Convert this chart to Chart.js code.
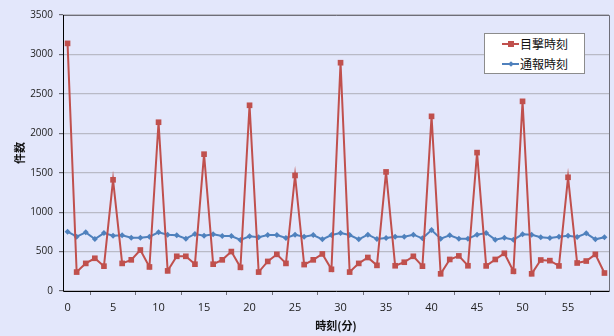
<!DOCTYPE html>
<html>
<head>
<meta charset="utf-8">
<script src="https://cdn.jsdelivr.net/npm/chart.js@4.4.1/dist/chart.umd.min.js"></script>
<style>
    html, body { margin: 0; padding: 0; background: #e3e7fb; }
    #wrap { position: relative; width: 614px; height: 336px; }
    #legend {
        position: absolute; left: 484px; top: 33px; width: 99px; height: 39px;
        background: #ffffff; border: 1px solid #8c8c8c;
        font-family: "Noto Sans CJK JP", sans-serif; font-size: 12px; color: #111;
    }
    .item { position: absolute; left: 17px; height: 18px; line-height: 18px; }
    .item .ln { position: absolute; left: 0; top: 8px; width: 17px; height: 2px; }
    .item .mk { position: absolute; }
    .item span { position: absolute; left: 18px; white-space: nowrap; }
</style>
</head>
<body>
<div id="wrap">
    <canvas id="chart" width="614" height="336"></canvas>
    <div id="legend"></div>
</div>
<script>
// ----------------------------------------------------------------------------
// Data
// ----------------------------------------------------------------------------
const minutes = Array.from({ length: 60 }, (_, i) => String(i));

const seriesNames = ["目撃時刻", "通報時刻"];

const sightingCounts = [
    3140, 240, 350, 415, 315, 1410, 350, 395, 520, 305,
    2140, 255, 440, 440, 340, 1735, 340, 395, 500, 300,
    2355, 240, 375, 465, 350, 1465, 335, 395, 470, 275,
    2895, 240, 350, 425, 325, 1510, 320, 365, 440, 315,
    2215, 218, 400, 445, 320, 1755, 318, 400, 478, 250,
    2405, 218, 393, 385, 318, 1442, 355, 380, 465, 228
];

const reportCounts = [
    752, 689, 744, 659, 735, 701, 706, 676, 676, 689,
    744, 714, 706, 663, 723, 701, 719, 697, 697, 647,
    693, 681, 710, 710, 672, 714, 689, 710, 655, 710,
    735, 710, 655, 714, 659, 672, 689, 689, 714, 668,
    773, 663, 706, 663, 663, 714, 735, 651, 676, 651,
    719, 714, 681, 672, 689, 701, 685, 731, 655, 681
];

const yTicks = { min: 0, max: 3500, step: 500 };

const RED = "#c0504d";
const BLUE = "#4f81bd";
const FONT = "'Open Sans', 'Noto Sans CJK JP', sans-serif";

// ----------------------------------------------------------------------------
// Plot frame: grey box around the chart area, black left/bottom axes
// ----------------------------------------------------------------------------
const frameBox = {
    id: "frameBox",
    beforeDatasetsDraw(chart) {
        const { ctx, chartArea: a } = chart;
        ctx.save();
        ctx.strokeStyle = "#6e6e78";
        ctx.lineWidth = 1;
        ctx.beginPath();
        ctx.moveTo(a.left, a.top + 0.5);
        ctx.lineTo(a.right + 0.5, a.top + 0.5);
        ctx.lineTo(a.right + 0.5, a.bottom);
        ctx.stroke();
        ctx.strokeStyle = "#000000";
        ctx.beginPath();
        ctx.moveTo(a.left + 0.5, a.top);
        ctx.lineTo(a.left + 0.5, a.bottom + 0.5);
        ctx.lineTo(a.right + 0.5, a.bottom + 0.5);
        ctx.stroke();
        ctx.restore();
    },
};

const chart = new Chart(document.getElementById("chart").getContext("2d"), {
    type: "line",
    data: {
        labels: minutes,
        datasets: [
            {
                label: seriesNames[0],
                data: sightingCounts,
                borderColor: RED,
                backgroundColor: RED,
                borderWidth: 2,
                pointStyle: "rect",
                pointRadius: 4,
                pointBorderWidth: 0,
                tension: 0,
            },
            {
                label: seriesNames[1],
                data: reportCounts,
                borderColor: BLUE,
                backgroundColor: BLUE,
                borderWidth: 2,
                pointStyle: "rectRot",
                pointRadius: 3,
                pointBorderWidth: 0,
                tension: 0,
            },
        ],
    },
    options: {
        responsive: false,
        animation: false,
        layout: { padding: { top: 15, right: 5, left: 0, bottom: 0 } },
        plugins: { legend: { display: false }, tooltip: { enabled: false } },
        scales: {
            x: {
                type: "category",
                offset: true,
                border: { display: false },
                grid: {
                    offset: true,
                    drawOnChartArea: false,
                    drawTicks: true,
                    tickLength: 4,
                    color: "#6e6e78",
                },
                ticks: {
                    autoSkip: false,
                    maxRotation: 0,
                    padding: 6,
                    color: "#222",
                    font: { family: FONT, size: 11 },
                    callback: (v, i) => (i % 5 === 0 ? minutes[i] : null),
                },
                title: {
                    display: true,
                    text: "時刻(分)",
                    color: "#111",
                    font: { family: "'Noto Sans CJK JP', sans-serif", size: 11, weight: "bold" },
                    padding: { top: 0, bottom: 4 },
                },
                afterFit: (s) => { s.height = 45; },
            },
            y: {
                min: yTicks.min,
                max: yTicks.max,
                border: { display: false },
                grid: {
                    color: "#b9bac6",
                    lineWidth: 1.2,
                    drawTicks: true,
                    tickLength: 4,
                    tickColor: "#6e6e78",
                },
                ticks: {
                    stepSize: yTicks.step,
                    padding: 6,
                    color: "#222",
                    font: { family: FONT, size: 10 },
                    callback: (v) => String(v),
                },
                title: {
                    display: true,
                    text: "件数",
                    color: "#111",
                    font: { family: "'Noto Sans CJK JP', sans-serif", size: 11, weight: "bold" },
                    padding: { top: 13, bottom: 0 },
                },
                afterFit: (s) => { s.width = 63; },
            },
        },
    },
    plugins: [frameBox],
});

// ----------------------------------------------------------------------------
// Boxed legend in the top-right corner, built from the dataset styles
// ----------------------------------------------------------------------------
function buildLegend() {
    const box = document.getElementById("legend");
    chart.data.datasets.forEach((ds, i) => {
        const row = document.createElement("div");
        row.className = "item";
        row.style.top = (i * 20 + 1) + "px";
        const ln = document.createElement("div");
        ln.className = "ln";
        ln.style.background = ds.borderColor;
        const mk = document.createElement("div");
        mk.className = "mk";
        mk.style.background = ds.borderColor;
        if (ds.pointStyle === "rect") {
            Object.assign(mk.style, { left: "6px", top: "6px", width: "6px", height: "6px" });
        } else {
            Object.assign(mk.style, { left: "7px", top: "7px", width: "4px", height: "4px", transform: "rotate(45deg)" });
        }
        const txt = document.createElement("span");
        txt.textContent = ds.label;
        row.append(ln, mk, txt);
        box.appendChild(row);
    });
}
buildLegend();
</script>
</body>
</html>
